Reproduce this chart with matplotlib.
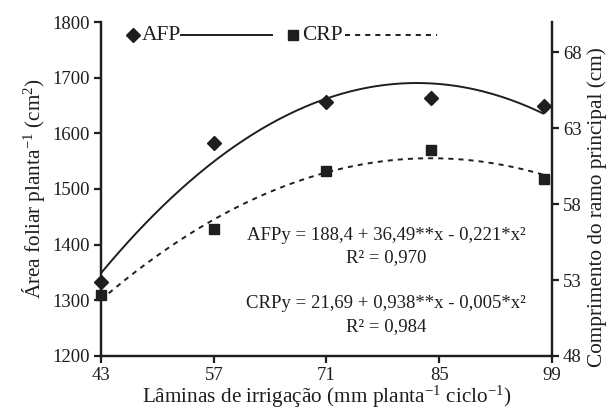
import numpy as np
import matplotlib
matplotlib.use("Agg")
import matplotlib.pyplot as plt

plt.rcParams['font.family'] = ['Liberation Serif', 'DejaVu Serif']
plt.rcParams['mathtext.fontset'] = 'custom'
plt.rcParams['mathtext.rm'] = 'Liberation Serif'
plt.rcParams['mathtext.it'] = 'Liberation Serif:italic'

# Data
x_levels = [43, 57, 71, 84, 98]
afp_values = [1333, 1583, 1657, 1663, 1649]      # left axis (cm2)
crp_values = [52.0, 56.35, 60.16, 61.57, 59.65]  # right axis (cm)
x_ticks = [43, 57, 71, 85, 99]
left_ticks = [1200, 1300, 1400, 1500, 1600, 1700, 1800]
right_ticks = [48, 53, 58, 63, 68]

ink = '#1e1e1e'
fs = 13.5
lfs = 15.3

fig = plt.figure(figsize=(6.16, 4.12), dpi=100)
ax = fig.add_axes([0.164, 0.136, 0.732, 0.8106])
ax2 = ax.twinx()

# quadratic trend curves fitted by numpy
xs = np.linspace(min(x_levels), max(x_levels), 200)
pa = np.polyfit(x_levels, afp_values, 2)
pc = np.polyfit(x_levels, crp_values, 2)
ax.plot(xs, np.polyval(pa, xs), color=ink, lw=1.4, solid_capstyle='butt')
ax2.plot(xs, np.polyval(pc, xs), color=ink, lw=1.4, linestyle=(0, (2.6, 2.6)))

ax.plot(x_levels, afp_values, linestyle='none', marker='D', ms=7, color=ink, clip_on=False, zorder=5)
ax2.plot(x_levels, crp_values, linestyle='none', marker='s', ms=7, color=ink, clip_on=False, zorder=5)

ax.set_xlim(43, 99)
ax.set_ylim(1200, 1800)
ax2.set_ylim(48, 70)
ax.set_xticks(x_ticks)
ax.set_yticks(left_ticks)
ax2.set_yticks(right_ticks)

for a in (ax, ax2):
    a.spines['top'].set_visible(False)
    for s in a.spines.values():
        s.set_linewidth(1.6)
        s.set_color(ink)
    a.tick_params(direction='out', length=5, width=1.6, color=ink, labelsize=fs, labelcolor=ink, pad=3)

ax.set_xlabel('Lâminas de irrigação (mm planta$^{-1}$ ciclo$^{-1}$)', fontsize=lfs, color=ink, labelpad=0)
ax.set_ylabel('Área foliar planta$^{-1}$ (cm$^{2}$)', fontsize=lfs, color=ink, labelpad=4)
ax2.set_ylabel('Comprimento do ramo principal (cm)', fontsize=lfs, color=ink)
ax2.yaxis.set_label_coords(1.078, 0.446)

# legend key (axes fraction)
T = ax.transAxes
ax.plot([0.071], [0.961], marker='D', ms=7, color=ink, transform=T, clip_on=False)
ax.text(0.091, 0.961, 'AFP', transform=T, fontsize=15.5, color=ink, va='center', ha='left')
ax.plot([0.177, 0.379], [0.961, 0.961], color=ink, lw=1.4, transform=T)
ax.plot([0.426], [0.961], marker='s', ms=7, color=ink, transform=T, clip_on=False)
ax.text(0.446, 0.961, 'CRP', transform=T, fontsize=15.5, color=ink, va='center', ha='left')
ax.plot([0.541, 0.745], [0.961, 0.961], color=ink, lw=1.4, linestyle=(0, (2.6, 2.6)), transform=T)

# equations
ax.text(0.632, 0.362, 'AFPy = 188,4 + 36,49**x - 0,221*x²', transform=T, fontsize=fs, color=ink, ha='center', va='center')
ax.text(0.632, 0.296, 'R² = 0,970', transform=T, fontsize=fs, color=ink, ha='center', va='center')
ax.text(0.632, 0.156, 'CRPy = 21,69 + 0,938**x - 0,005*x²', transform=T, fontsize=fs, color=ink, ha='center', va='center')
ax.text(0.632, 0.087, 'R² = 0,984', transform=T, fontsize=fs, color=ink, ha='center', va='center')

fig.savefig('out.png', dpi=100)
